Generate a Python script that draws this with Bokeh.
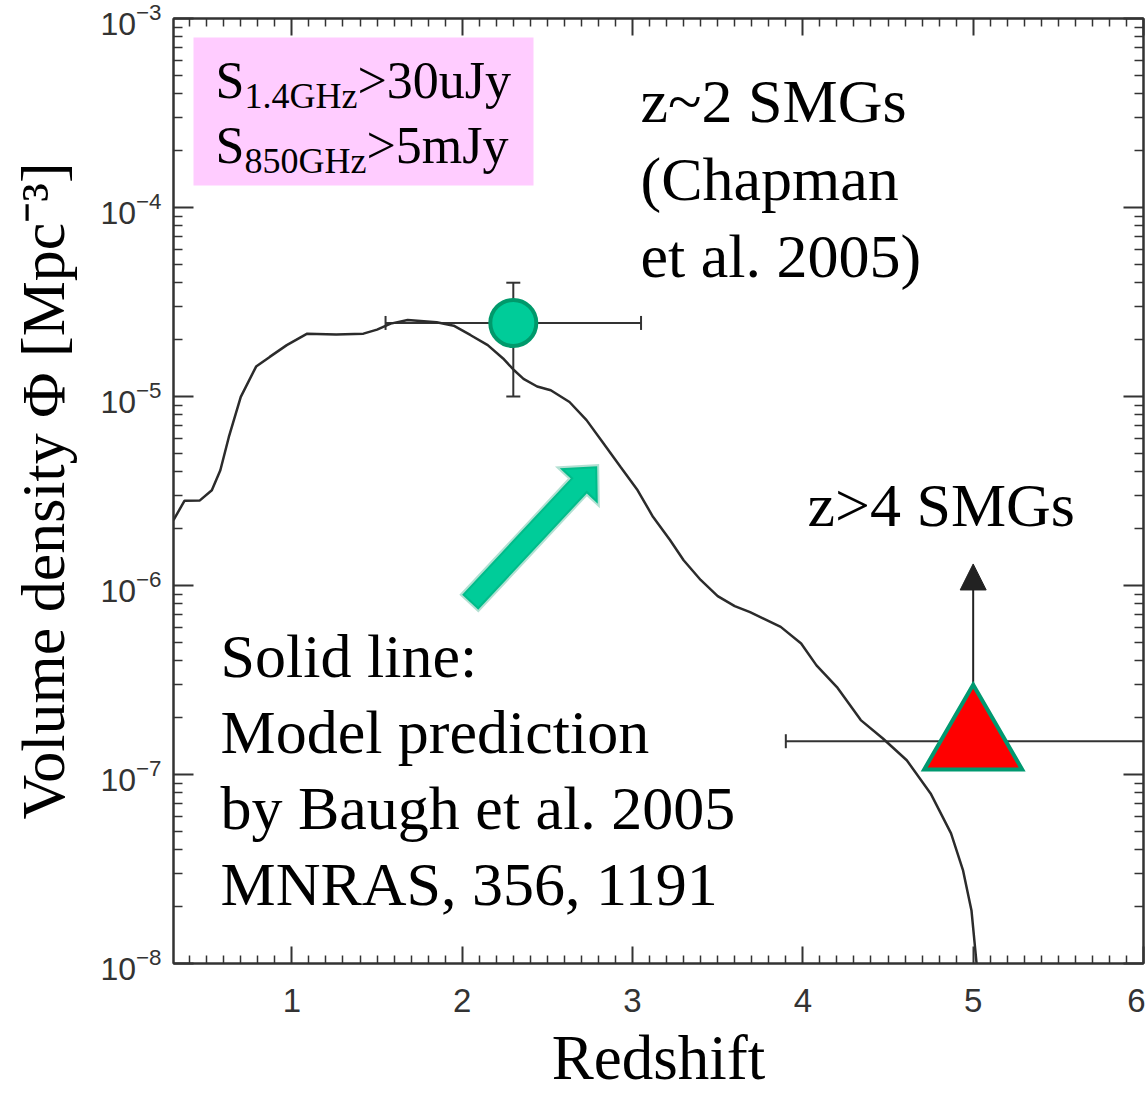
import math
from bokeh.plotting import figure
from bokeh.models import (Range1d, FixedTicker, LinearAxis, Label, BoxAnnotation,
                          PolyAnnotation, Whisker, TeeHead, Arrow, NormalHead, ColumnDataSource,
                          CustomJSTickFormatter)
from bokeh.embed import file_html
from bokeh.resources import INLINE

# ---------------- data ----------------
# Model prediction (Baugh et al. 2005): redshift vs volume density [Mpc^-3]
model_z = [0.305, 0.37, 0.46, 0.53, 0.58, 0.63, 0.70, 0.79, 0.87, 0.97, 1.09, 1.26,
           1.42, 1.50, 1.58, 1.68, 1.85, 1.95, 2.05, 2.15, 2.24, 2.30, 2.36, 2.44,
           2.52, 2.63, 2.73, 2.83, 2.93, 3.03, 3.12, 3.22, 3.30, 3.40, 3.50, 3.60,
           3.69, 3.87, 3.99, 4.08, 4.20, 4.34, 4.47, 4.61, 4.75, 4.87, 4.94, 4.99, 5.02]
model_phi = [2.22e-6, 2.81e-6, 2.82e-6, 3.19e-6, 4.07e-6, 6.11e-6, 9.95e-6, 1.44e-5,
             1.62e-5, 1.87e-5, 2.15e-5, 2.13e-5, 2.15e-5, 2.26e-5, 2.43e-5, 2.54e-5,
             2.47e-5, 2.37e-5, 2.11e-5, 1.87e-5, 1.59e-5, 1.39e-5, 1.24e-5, 1.13e-5,
             1.08e-5, 9.35e-6, 7.50e-6, 5.64e-6, 4.24e-6, 3.19e-6, 2.31e-6, 1.74e-6,
             1.36e-6, 1.07e-6, 8.79e-7, 7.78e-7, 7.23e-7, 6.04e-7, 4.93e-7, 3.78e-7,
             2.90e-7, 1.94e-7, 1.55e-7, 1.19e-7, 7.94e-8, 4.88e-8, 3.12e-8, 1.91e-8, 1.0e-8]

# z~2 SMGs (Chapman et al. 2005)
smg2_z = [2.3]
smg2_phi = [2.45e-5]
smg2_z_lo = [1.55]
smg2_z_hi = [3.05]
smg2_phi_lo = [1.0e-5]
smg2_phi_hi = [4.0e-5]

# z>4 SMGs (lower limit)
smg4_z = [5.0]
smg4_phi = [1.5e-7]
smg4_z_lo = [3.9]
smg4_z_hi = [6.2]
smg4_limit_to = [1.3e-6]

x_major = [1, 2, 3, 4, 5, 6]
x_minor = [round(0.1 * i, 1) for i in range(4, 61) if i % 10 != 0]
y_major = [1e-8, 1e-7, 1e-6, 1e-5, 1e-4, 1e-3]
y_minor = [k * 10.0 ** e for e in range(-8, -3) for k in range(2, 10)]

# ---------------- figure ----------------
AX = "#333333"
SERIF = "Liberation Serif"
SANS = "Liberation Sans"

p = figure(frame_width=970, frame_height=945,
           x_range=Range1d(0.305, 6.0), y_range=Range1d(1e-8, 1e-3),
           y_axis_type="log", output_backend="svg", toolbar_location=None,
           min_border_left=173, min_border_right=2, min_border_top=18, min_border_bottom=0,
           background_fill_color="white", border_fill_color="white")
p.xgrid.visible = False
p.ygrid.visible = False
p.outline_line_color = AX
p.outline_line_width = 2

xt = FixedTicker(ticks=x_major, minor_ticks=x_minor)
yt = FixedTicker(ticks=y_major, minor_ticks=y_minor)


def style_axis(ax, major_len, minor_len):
    ax.axis_line_color = AX
    ax.axis_line_width = 2
    ax.major_tick_line_color = AX
    ax.major_tick_line_width = 2
    ax.minor_tick_line_color = AX
    ax.minor_tick_line_width = 1.5
    ax.major_tick_in = major_len
    ax.major_tick_out = 0
    ax.minor_tick_in = minor_len
    ax.minor_tick_out = 0


xa = p.xaxis[0]
xa.ticker = xt
style_axis(xa, 17, 8)
xa.major_label_text_font = SANS
xa.major_label_text_font_size = "33px"
xa.major_label_text_color = AX
xa.major_label_standoff = 25
xa.axis_label = "Redshift"
xa.axis_label_text_font = SERIF
xa.axis_label_text_font_size = "63px"
xa.axis_label_text_font_style = "normal"
xa.axis_label_text_color = "black"
xa.axis_label_standoff = 8

ya = p.yaxis[0]
ya.ticker = yt
style_axis(ya, 20, 9)
ya.major_label_text_font = SANS
ya.major_label_text_font_size = "32px"
ya.major_label_text_color = AX
ya.major_label_standoff = 12
ya.axis_label = "Volume density \u03a6 [Mpc\u207b\u00b3]"
ya.axis_label_text_font = SERIF
ya.axis_label_text_font_size = "62px"
ya.axis_label_text_font_style = "normal"
ya.axis_label_text_color = "black"
ya.axis_label_standoff = 20

blank = CustomJSTickFormatter(code="return ''")
top_ax = LinearAxis(ticker=xt, formatter=blank, major_label_standoff=0)
style_axis(top_ax, 17, 8)
p.add_layout(top_ax, "above")
right_ax = LinearAxis(ticker=yt, formatter=blank, major_label_standoff=0)
style_axis(right_ax, 20, 9)
p.add_layout(right_ax, "right")

# ---------------- annotations (screen units, origin = frame bottom-left) ----------------
p.add_layout(BoxAnnotation(left=20, right=360, bottom=778, top=926,
                           left_units="screen", right_units="screen",
                           bottom_units="screen", top_units="screen",
                           fill_color="#ffccff", fill_alpha=1.0, line_color=None,
                           level="underlay"))


def add_label(text, sx, sy, size):
    p.add_layout(Label(x=sx, y=sy, x_units="screen", y_units="screen", text=text,
                       text_font=SERIF, text_font_size=f"{size}px", text_color="black",
                       text_align="left", text_baseline="alphabetic"))


add_label("S", 42, 883, 52)
add_label("1.4GHz", 71, 868, 36)
add_label(">30uJy", 184, 883, 52)
add_label("S", 42, 818, 52)
add_label("850GHz", 71, 803, 36)
add_label(">5mJy", 193, 818, 52)

add_label("z~2 SMGs", 467, 863, 62)
add_label("(Chapman", 467, 785, 62)
add_label("et al. 2005)", 467, 708, 62)

add_label("z>4 SMGs", 634, 459, 62)

add_label("Solid line:", 47, 308, 62)
add_label("Model prediction", 47, 232, 62)
add_label("by Baugh et al. 2005", 47, 156, 62)
add_label("MNRAS, 356, 1191", 47, 80, 62)

# green block arrow (pointing at the model curve)
tail = (296.7, 361.3)
tip = (423.7, 497.3)
L = math.hypot(tip[0] - tail[0], tip[1] - tail[1])
d = ((tip[0] - tail[0]) / L, (tip[1] - tail[1]) / L)
n = (-d[1], d[0])
head_len, head_hw, shaft_hw = 27, 26, 11
base = (tip[0] - head_len * d[0], tip[1] - head_len * d[1])


def pt(c, w):
    return (c[0] + w * n[0], c[1] + w * n[1])


poly = [pt(tail, shaft_hw), pt(base, shaft_hw), pt(base, head_hw), tip,
        pt(base, -head_hw), pt(base, -shaft_hw), pt(tail, -shaft_hw)]
p.add_layout(PolyAnnotation(xs=[q[0] for q in poly], ys=[q[1] for q in poly],
                            xs_units="screen", ys_units="screen",
                            fill_color="#00cc99", fill_alpha=1.0,
                            line_color="#00996b", line_width=4, line_join="miter"))

# ---------------- data marks ----------------
p.line(model_z, model_phi, line_color="#2b2b2b", line_width=2.5)

src2 = ColumnDataSource(dict(z=smg2_z, phi=smg2_phi, zlo=smg2_z_lo, zhi=smg2_z_hi,
                             plo=smg2_phi_lo, phh=smg2_phi_hi))
src4 = ColumnDataSource(dict(z=smg4_z, phi=smg4_phi, zlo=smg4_z_lo, zhi=smg4_z_hi,
                             lim=smg4_limit_to))

EB = "#333333"


def tee():
    return TeeHead(size=14, line_color=EB, line_width=2)


p.add_layout(Whisker(source=src2, base="z", lower="plo", upper="phh", dimension="height",
                     line_color=EB, line_width=2, lower_head=tee(), upper_head=tee(),
                     level="underlay"))
p.add_layout(Whisker(source=src2, base="phi", lower="zlo", upper="zhi", dimension="width",
                     line_color=EB, line_width=2, lower_head=tee(), upper_head=tee(),
                     level="underlay"))
p.add_layout(Whisker(source=src4, base="phi", lower="zlo", upper="zhi", dimension="width",
                     line_color=EB, line_width=2, lower_head=tee(), upper_head=None,
                     level="underlay"))
p.add_layout(Arrow(source=src4, x_start="z", y_start="phi", x_end="z", y_end="lim",
                   line_color="#222222", line_width=2,
                   end=NormalHead(size=26, fill_color="#222222", line_color="#222222"),
                   level="underlay"))

p.scatter("z", "phi", source=src2, marker="circle", size=46,
          fill_color="#00cc99", line_color="#00996b", line_width=4)
p.scatter("z", "phi", source=src4, marker="triangle", size=98,
          fill_color="#ff0000", line_color="#009970", line_width=4, line_join="miter")

open("out.html", "w").write(file_html(p, INLINE))
